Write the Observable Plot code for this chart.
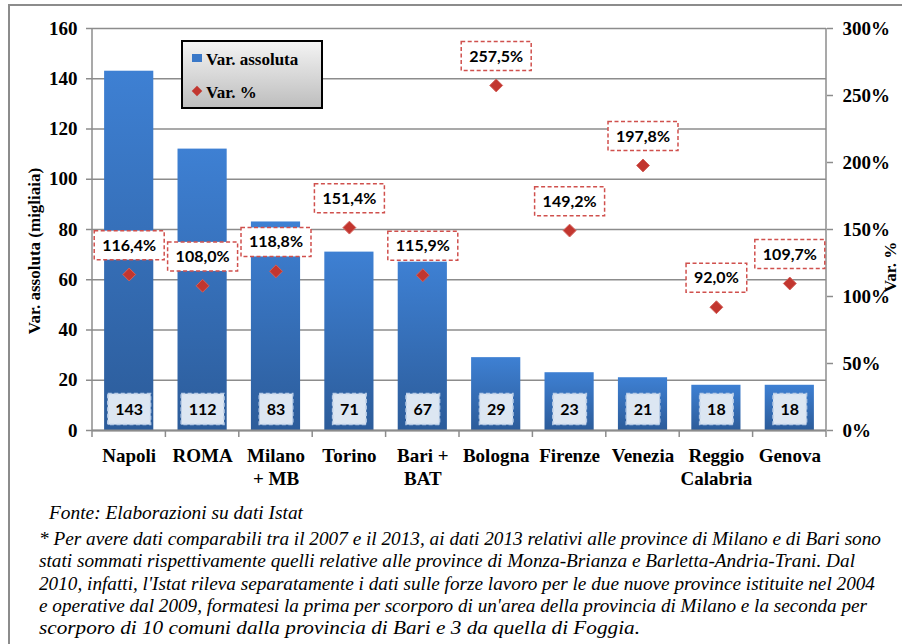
<!DOCTYPE html>
<html><head><meta charset="utf-8">
<script src="https://cdn.jsdelivr.net/npm/d3@7"></script>
<script src="https://cdn.jsdelivr.net/npm/@observablehq/plot@0.6"></script>
<style>
body{margin:0;background:#fff;}
#wrap{position:relative;width:902px;height:644px;overflow:hidden;background:#fff;}
#frame{position:absolute;left:8px;top:4px;width:1000px;height:800px;border:2px solid #8c8c8c;}
#chart{position:absolute;left:0;top:0;}
#notes{position:absolute;left:0;top:490px;}
</style></head>
<body><div id="wrap"><div id="frame"></div><div id="chart"></div><svg id="notes" width="902" height="154"></svg></div>
<script>
const categories = ["Napoli","ROMA","Milano + MB","Torino","Bari + BAT","Bologna","Firenze","Venezia","Reggio Calabria","Genova"];
const tickLabels = ["Napoli","ROMA","Milano\n+ MB","Torino","Bari +\nBAT","Bologna","Firenze","Venezia","Reggio\nCalabria","Genova"];
const varAssoluta = [143,112,83,71,67,29,23,21,18,18];
const varPercent = [116.4,108.0,118.8,151.4,115.9,257.5,149.2,197.8,92.0,109.7];
const leftTicks = [0,20,40,60,80,100,120,140,160];
const rightTicks = [0,50,100,150,200,250,300];
const seriesNames = ["Var. assoluta","Var. %"];
const yTitle = "Var. assoluta (migliaia)";
const y2Title = "Var. %";
const notes = [
  "Fonte: Elaborazioni su dati Istat",
  "* Per avere dati comparabili tra il 2007 e il 2013, ai dati 2013 relativi alle province di Milano e di Bari sono",
  "stati sommati rispettivamente quelli relative alle province di Monza-Brianza e Barletta-Andria-Trani. Dal",
  "2010, infatti, l'Istat rileva separatamente i dati sulle forze lavoro per le due nuove province istituite nel 2004",
  "e operative dal 2009, formatesi la prima per scorporo di un'area della provincia di Milano e la seconda per",
  "scorporo di 10 comuni dalla provincia di Bari e 3 da quella di Foggia."
];

const k = 160 / 300; // right axis (%) mapped onto left axis domain
const data = categories.map((c, i) => ({cat: c, abs: varAssoluta[i], pct: varPercent[i], pctY: varPercent[i] * k}));
const labelOf = new Map(categories.map((c, i) => [c, tickLabels[i]]));
const fmtPct = v => v.toFixed(1).replace(".", ",") + "%";

const SERIF = "Liberation Serif, Times New Roman, Tinos, DejaVu Serif, serif";
const SANS = "Lato, Open Sans, sans-serif";
const GRAY = "#8c8c8c";

function gradDefs() {
  const ns = "http://www.w3.org/2000/svg";
  const defs = document.createElementNS(ns, "defs");
  defs.innerHTML = `
    <linearGradient id="barGrad" x1="0" y1="0" x2="0" y2="1">
      <stop offset="0" stop-color="#3e80d3"/>
      <stop offset="1" stop-color="#2c5c9a"/>
    </linearGradient>
    <linearGradient id="legGrad" x1="0" y1="0" x2="0" y2="1">
      <stop offset="0" stop-color="#f4f4f4"/>
      <stop offset="1" stop-color="#bdbdbd"/>
    </linearGradient>`;
  return defs;
}

const plot = Plot.plot({
  width: 902, height: 490,
  marginLeft: 92, marginRight: 76, marginTop: 28, marginBottom: 60,
  style: {background: "transparent", overflow: "visible", color: "#000"},
  x: {domain: categories, paddingInner: 0.33, paddingOuter: 0.165, round: false, axis: null},
  y: {domain: [0, 160], axis: null},
  marks: [
    gradDefs,
    Plot.gridY(leftTicks, {stroke: GRAY, strokeOpacity: 1, strokeWidth: 1.5}),
    Plot.barY(data, {x: "cat", y: "abs", fill: "url(#barGrad)"}),
    Plot.ruleY([0], {stroke: GRAY, strokeWidth: 2}),
    Plot.axisY(leftTicks, {anchor: "left", tickSize: 6, tickPadding: 9, stroke: GRAY, strokeWidth: 1.5, fill: "#000", fontSize: 19, fontWeight: "bold", fontFamily: SERIF, label: null}),
    Plot.axisY(rightTicks.map(t => t * k), {anchor: "right", tickSize: 6, tickPadding: 10, stroke: GRAY, strokeWidth: 1.5, fill: "#000", fontSize: 19, fontWeight: "bold", fontFamily: SERIF, label: null, tickFormat: d => Math.round(d / k) + "%"}),
    Plot.axisX(categories, {anchor: "bottom", tickSize: 0, tickPadding: 14, fill: "#000", fontSize: 19, fontWeight: "bold", fontFamily: SERIF, lineHeight: 1.26, label: null, tickFormat: d => labelOf.get(d)}),
    Plot.text(data, {x: "cat", y: 0, dy: -21, text: d => String(d.abs), fontSize: 16, fontWeight: "bold", fontFamily: SANS, fill: "#000", className: "vals"}),
    Plot.dot(data, {x: "cat", y: "pctY", symbol: "diamond2", r: 5.8, fill: "#c2362f", stroke: "#d4615b", strokeWidth: 1}),
    Plot.text(data, {x: "cat", y: "pctY", dy: -29, text: d => fmtPct(d.pct), fontSize: 16, fontWeight: "bold", fontFamily: SANS, fill: "#000", className: "pcts"})
  ]
});
document.getElementById("chart").appendChild(plot);

const svg = d3.select(plot);
const xs = plot.scale("x");
const yTop = 28, yBot = 430, xL = 92, xR = 826;

// axis lines and category separators (layout)
const deco = svg.insert("g", "g.vals");
deco.append("line").attr("x1", xL).attr("x2", xL).attr("y1", yTop).attr("y2", yBot).attr("stroke", GRAY).attr("stroke-width", 1.5);
deco.append("line").attr("x1", xR).attr("x2", xR).attr("y1", yTop).attr("y2", yBot).attr("stroke", GRAY).attr("stroke-width", 1.5);
const gap = (xs.step - xs.bandwidth) / 2;
const bounds = categories.map(c => xs.apply(c) - gap).concat([xs.apply(categories[categories.length - 1]) + xs.bandwidth + gap]);
deco.selectAll("line.sep").data(bounds).join("line").attr("class", "sep")
  .attr("x1", d => d).attr("x2", d => d).attr("y1", yBot).attr("y2", yBot + 7).attr("stroke", GRAY).attr("stroke-width", 1.5);

// label boxes
function boxes(cls, padX, h, fill, stroke) {
  svg.selectAll(`g.${cls} text`).each(function() {
    const b = this.getBBox();
    const cy = b.y + b.height / 2;
    const r = document.createElementNS("http://www.w3.org/2000/svg", "rect");
    r.setAttribute("x", b.x - padX); r.setAttribute("width", b.width + 2 * padX);
    r.setAttribute("y", cy - h / 2 + 1); r.setAttribute("height", h);
    r.setAttribute("fill", fill); r.setAttribute("stroke", stroke);
    r.setAttribute("stroke-width", 1.5); r.setAttribute("stroke-dasharray", "4,2.5");
    const tr = this.getAttribute("transform"); if (tr) r.setAttribute("transform", tr);
    this.parentNode.insertBefore(r, this);
  });
}
boxes("vals", 7.5, 31, "#dce6f2", "#b7cbe6");
boxes("pcts", 8, 29, "#ffffff", "#d0504d");

// axis titles
svg.append("text").attr("transform", "translate(40,251) rotate(-90)").attr("text-anchor", "middle")
  .attr("font-family", SERIF).attr("font-weight", "bold").attr("font-size", 17).text(yTitle);
svg.append("text").attr("transform", "translate(896,267) rotate(-90)").attr("text-anchor", "middle")
  .attr("font-family", SERIF).attr("font-weight", "bold").attr("font-size", 17).text(y2Title);

// legend
const lg = svg.append("g").attr("font-family", SERIF).attr("font-weight", "bold").attr("font-size", 17).attr("text-anchor", "start");
lg.append("rect").attr("x", 182).attr("y", 41).attr("width", 140).attr("height", 67).attr("fill", "url(#legGrad)").attr("stroke", "#000").attr("stroke-width", 2);
lg.append("rect").attr("x", 192).attr("y", 54).attr("width", 10).attr("height", 8).attr("fill", "#3a78c8");
lg.append("text").attr("x", 206).attr("y", 65).text(seriesNames[0]);
lg.append("path").attr("d", d3.symbol(d3.symbolDiamond2, 70)()).attr("transform", "translate(197,91)").attr("fill", "#c2362f");
lg.append("text").attr("x", 206).attr("y", 98).text(seriesNames[1]);

// footnotes
const nsv = d3.select("#notes");
const noteX = [49, 39, 39, 39, 39, 39];
const noteY = [29, 55, 77, 100, 122, 144];
const noteW = [254, 842, 816, 836, 828, 601];
nsv.selectAll("text").data(notes).join("text")
  .attr("x", (d, i) => noteX[i]).attr("y", (d, i) => noteY[i])
  .attr("textLength", (d, i) => noteW[i]).attr("lengthAdjust", "spacingAndGlyphs")
  .attr("font-family", SERIF).attr("font-style", "italic").attr("font-size", 18.5)
  .text(d => d);
</script>
</body></html>
